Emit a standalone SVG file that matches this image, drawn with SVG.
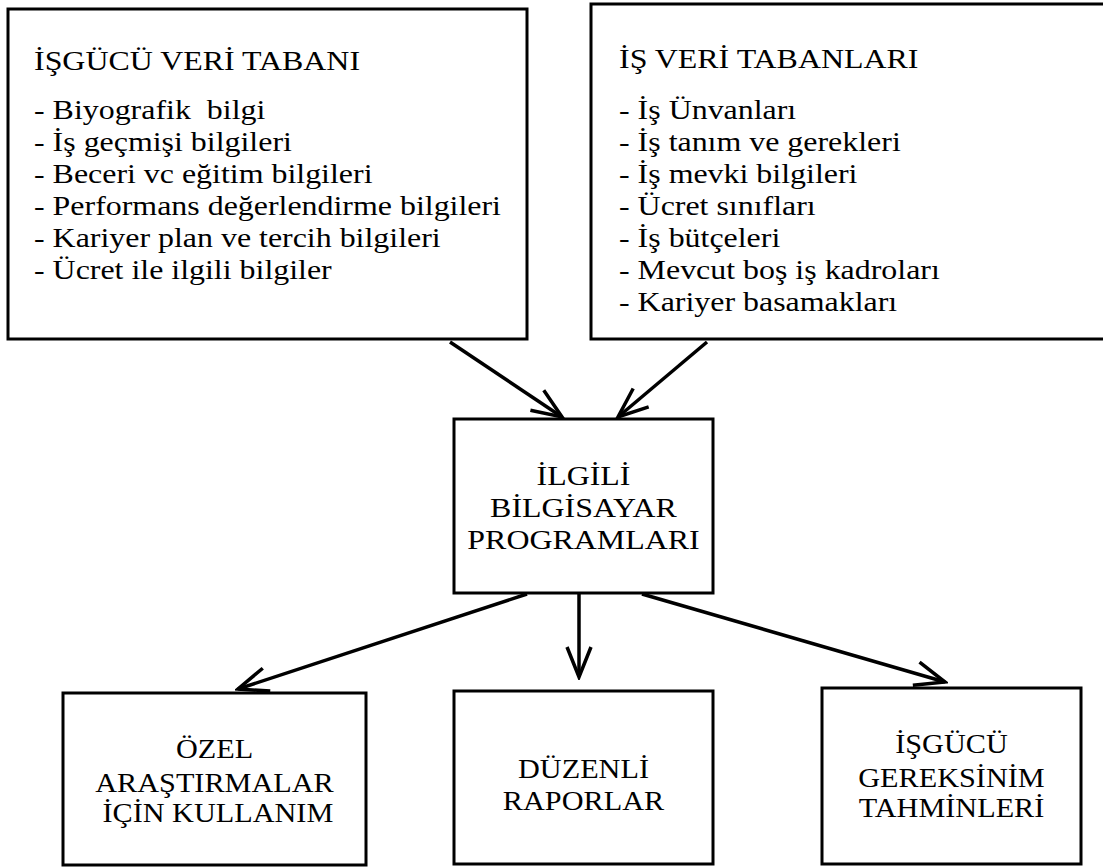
<svg xmlns="http://www.w3.org/2000/svg" width="1103" height="867" viewBox="0 0 1103 867">
  <style>
    .box { fill: #fff; stroke: #000; stroke-width: 3; }
    .t { font-family: "Liberation Serif", "Times New Roman", serif; fill: #000; }
    .list { font-size: 28px; }
    .mid { font-size: 28px; text-anchor: middle; }
    .low { font-size: 27px; text-anchor: middle; }
    .link { stroke: #000; stroke-width: 3.5; fill: none; marker-end: url(#arrow); }
  </style>
  <defs>
    <marker id="arrow" markerUnits="userSpaceOnUse" markerWidth="36" markerHeight="30" viewBox="0 0 36 30" refX="33" refY="15" orient="auto">
      <path d="M3,3 L33,15 L3,27" fill="none" stroke="#000" stroke-width="3.5"/>
    </marker>
  </defs>
  <rect width="1103" height="867" fill="#fff"/>

  <g id="connectors">
    <path class="link" d="M450,342 L562,417"/>
    <path class="link" d="M707,342 L618,417"/>
    <path class="link" d="M527,594 L238,689"/>
    <path class="link" d="M579,594 L579,677"/>
    <path class="link" d="M642,594 L945,682"/>
  </g>

  <!-- text is set a little wide: scale(1.14,1) on each block -->
  <g id="isgucu-veri-tabani">
    <rect class="box" x="8" y="9" width="519" height="330"/>
    <g transform="translate(34,0) scale(1.14,1)">
      <text class="t list" x="0" y="70">İŞGÜCÜ VERİ TABANI</text>
      <text class="t list" x="0" y="119" xml:space="preserve">- Biyografik  bilgi</text>
      <text class="t list" x="0" y="151">- İş geçmişi bilgileri</text>
      <text class="t list" x="0" y="183">- Beceri vc eğitim bilgileri</text>
      <text class="t list" x="0" y="215">- Performans değerlendirme bilgileri</text>
      <text class="t list" x="0" y="247">- Kariyer plan ve tercih bilgileri</text>
      <text class="t list" x="0" y="279">- Ücret ile ilgili bilgiler</text>
    </g>
  </g>

  <g id="is-veri-tabanlari">
    <rect class="box" x="591" y="4" width="515" height="335"/>
    <g transform="translate(619,0) scale(1.14,1)">
      <text class="t list" x="0" y="68">İŞ VERİ TABANLARI</text>
      <text class="t list" x="0" y="119">- İş Ünvanları</text>
      <text class="t list" x="0" y="151">- İş tanım ve gerekleri</text>
      <text class="t list" x="0" y="183">- İş mevki bilgileri</text>
      <text class="t list" x="0" y="215">- Ücret sınıfları</text>
      <text class="t list" x="0" y="247">- İş bütçeleri</text>
      <text class="t list" x="0" y="279">- Mevcut boş iş kadroları</text>
      <text class="t list" x="0" y="311">- Kariyer basamakları</text>
    </g>
  </g>

  <g id="bilgisayar-programlari">
    <rect class="box" x="454" y="419" width="259" height="174"/>
    <g transform="translate(583.5,0) scale(1.14,1)">
      <text class="t mid" x="0" y="485">İLGİLİ</text>
      <text class="t mid" x="0" y="517">BİLGİSAYAR</text>
      <text class="t mid" x="0" y="549">PROGRAMLARI</text>
    </g>
  </g>

  <g id="ozel-arastirmalar">
    <rect class="box" x="63" y="693" width="303" height="172"/>
    <g transform="translate(214.5,0) scale(1.12,1)">
      <text class="t low" x="0" y="758">ÖZEL</text>
      <text class="t low" x="0" y="792">ARAŞTIRMALAR</text>
      <text class="t low" x="3" y="822">İÇİN KULLANIM</text>
    </g>
  </g>

  <g id="duzenli-raporlar">
    <rect class="box" x="454" y="691" width="259" height="173"/>
    <g transform="translate(583.5,0) scale(1.12,1)">
      <text class="t low" x="0" y="778">DÜZENLİ</text>
      <text class="t low" x="0" y="810">RAPORLAR</text>
    </g>
  </g>

  <g id="isgucu-tahminleri">
    <rect class="box" x="822" y="688" width="259" height="176"/>
    <g transform="translate(951.5,0) scale(1.12,1)">
      <text class="t low" x="0" y="753">İŞGÜCÜ</text>
      <text class="t low" x="0" y="787">GEREKSİNİM</text>
      <text class="t low" x="0" y="817">TAHMİNLERİ</text>
    </g>
  </g>
</svg>
